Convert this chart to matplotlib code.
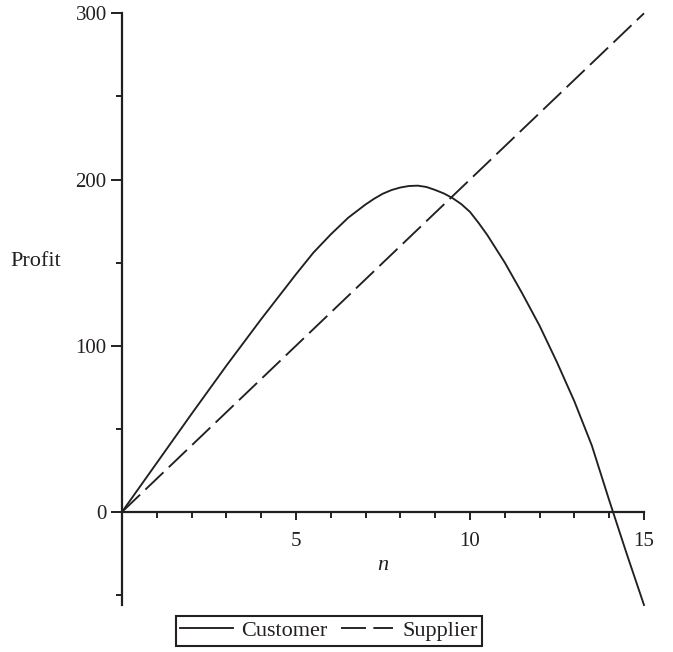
import matplotlib
matplotlib.use('Agg')
import matplotlib.pyplot as plt

# values
n_cust = [0, 1, 2, 3, 4, 5, 5.5, 6, 6.5, 7, 7.25, 7.5, 7.75, 8, 8.25, 8.5, 8.75, 9, 9.25, 9.5, 9.75,
          10, 10.25, 10.5, 11, 11.5, 12, 12.5, 13, 13.5, 14, 14.5, 15]
customer = [0, 29.5, 59, 88, 116, 143, 156, 167, 177, 185, 188.5, 191.5, 193.7, 195.2, 196.1, 196.3, 195.5,
            193.7, 191.6, 188.8, 185.2, 180.5, 173.8, 166.5, 150, 131.5, 112, 90, 66.5, 40, 7, -25, -56]
n_supp = [0, 15]
supplier = [0, 300]

x_ticks = [5, 10, 15]
y_ticks = [0, 100, 200, 300]

ink = '#231f20'
plt.rcParams['font.family'] = ['Liberation Serif', 'DejaVu Serif']
plt.rcParams['font.size'] = 15
plt.rcParams['lines.scale_dashes'] = False

fig = plt.figure(figsize=(6.73, 6.52), dpi=100)
ax = fig.add_axes([122/673, 1-605/652, 522/673, (605-13.3)/652])

ax.plot(n_cust, customer, color=ink, lw=1.35, label='Customer', clip_on=False)
ax.plot(n_supp, supplier, color=ink, lw=1.35, dashes=(18, 5.3), label='Supplier', clip_on=False)

ax.set_xlim(0, 15)
ax.set_ylim(min(customer), 300)

for s in ['top', 'right']:
    ax.spines[s].set_visible(False)
ax.spines['left'].set_position(('data', 0))
ax.spines['bottom'].set_position(('data', 0))
for s in ['left', 'bottom']:
    ax.spines[s].set_linewidth(1.6)
    ax.spines[s].set_color(ink)

ax.set_xticks(x_ticks)
ax.set_xticks(range(1, 15), minor=True)
ax.set_yticks(y_ticks)
ax.set_yticks([-50, 50, 150, 250], minor=True)

ax.tick_params(axis='x', which='major', length=6, width=1.4, pad=8.5, colors=ink)
ax.tick_params(axis='x', which='minor', length=4.5, width=1.4, colors=ink)
ax.tick_params(axis='y', which='major', length=8, width=1.4, pad=3, colors=ink)
ax.tick_params(axis='y', which='minor', length=4.5, width=1.4, colors=ink)

ax.set_xlabel('n', style='italic', color=ink, fontsize=16)
ax.xaxis.set_label_coords(0.5, (605-565)/591.7)
ax.xaxis.label.set_va('center')
ax.set_ylabel('Profit', rotation=0, color=ink, fontsize=16)
ax.yaxis.set_label_coords((36-122)/522, (605-262)/591.7)
ax.yaxis.label.set_va('center')
ax.yaxis.label.set_ha('center')

leg = ax.legend(loc='center', bbox_to_anchor=(329/673, 1-631/652), bbox_transform=fig.transFigure,
                ncol=2, frameon=True, fancybox=False, framealpha=1, edgecolor=ink, fontsize=16,
                handlelength=2.35, handletextpad=0.4, columnspacing=0.6, borderpad=0.2,
                borderaxespad=0)
leg.get_frame().set_linewidth(1.5)
for t in leg.get_texts():
    t.set_color(ink)

fig.savefig('out.png', dpi=100)
